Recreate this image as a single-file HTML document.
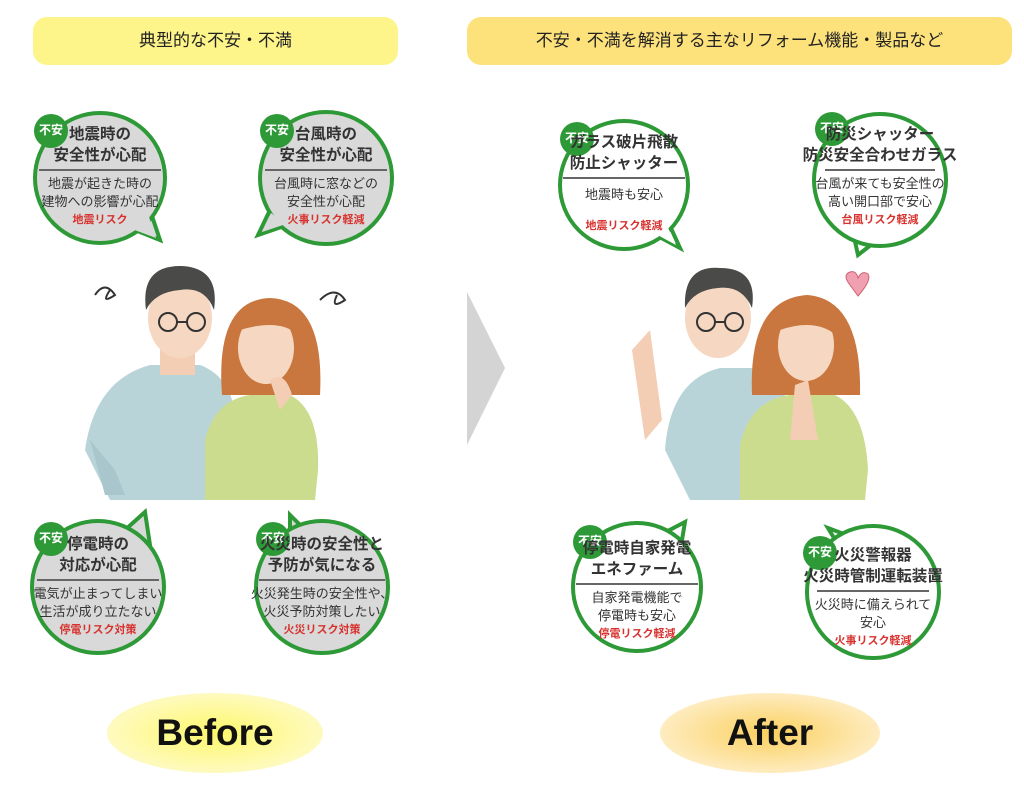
<!DOCTYPE html>
<html><head><meta charset="utf-8"><style>
body{margin:0;width:1024px;height:792px;background:#fff;position:relative;overflow:hidden;font-family:"Liberation Sans","Noto Sans CJK JP",sans-serif}
.a{position:absolute}
.pill{position:absolute;border-radius:14px;text-align:center;font-size:17px;color:#222;line-height:48px}
.t{position:absolute;width:150px;text-align:center;color:#333}
.ti{font-size:15.5px;font-weight:bold;line-height:21px}
.hr{height:2px;background:#666;margin:3px 14px 4px}
.bd{font-size:13px;line-height:18px}
.rd{font-size:11px;font-weight:bold;color:#d8322e;line-height:19px}
.badge{position:absolute;width:34px;height:34px;border-radius:50%;background:#2e9a37;color:#fff;font-size:12px;font-weight:bold;text-align:center;line-height:32px}
.big{position:absolute;font-size:37px;font-weight:bold;color:#111;text-align:center}
</style></head><body>
<div class="pill" style="left:33px;top:17px;width:365px;height:48px;background:#fdf48a">典型的な不安・不満</div>
<div class="pill" style="left:467px;top:17px;width:545px;height:48px;background:#fde27c">不安・不満を解消する主なリフォーム機能・製品など</div>

<svg class="a" style="left:0;top:0" width="1024" height="792">
<defs>
<radialGradient id="gy" cx="50%" cy="50%" r="50%"><stop offset="0" stop-color="#fdf86a"/><stop offset="1" stop-color="#fefac0"/></radialGradient>
<radialGradient id="go" cx="50%" cy="50%" r="50%"><stop offset="0" stop-color="#fbd05e"/><stop offset="1" stop-color="#feecc0"/></radialGradient>
</defs>
<polygon points="467,292 505,368 467,445" fill="#d4d4d4"/>
<ellipse cx="215" cy="733" rx="108" ry="40" fill="url(#gy)"/>
<ellipse cx="770" cy="733" rx="110" ry="40" fill="url(#go)"/>
<g stroke="#2e9a37" stroke-width="4">
<polygon points="130,228 160,240 150,210" fill="#d9d9d9"/>
<polygon points="270,210 258,235 290,224" fill="#d9d9d9"/>
<polygon points="125,530 145,512 150,545" fill="#d9d9d9"/>
<polygon points="290,545 290,515 310,535" fill="#d9d9d9"/>
<polygon points="650,232 680,248 665,215" fill="#fff"/>
<polygon points="852,228 858,255 880,238" fill="#fff"/>
<polygon points="660,535 685,522 680,552" fill="#fff"/>
<polygon points="840,548 828,528 860,540" fill="#fff"/>
<circle cx="100" cy="178" r="65" fill="#d9d9d9"/>
<circle cx="326" cy="178" r="66" fill="#d9d9d9"/>
<circle cx="98" cy="587" r="66" fill="#d9d9d9"/>
<circle cx="322" cy="587" r="66" fill="#d9d9d9"/>
<circle cx="624" cy="185" r="64" fill="#fff"/>
<circle cx="880" cy="180" r="66" fill="#fff"/>
<circle cx="637" cy="587" r="64" fill="#fff"/>
<circle cx="873" cy="592" r="66" fill="#fff"/>
</g>
<g stroke="none">
<polygon points="132,229 156,238 148,214" fill="#d9d9d9"/>
<polygon points="271,213 262,232 286,224" fill="#d9d9d9"/>
<polygon points="652,232 676,245 664,219" fill="#fff"/>
</g>
<!-- before people -->
<path d="M85,450 Q95,380 150,365 L200,365 Q240,380 235,440 L230,500 L110,500 Z" fill="#b9d4d8"/>
<path d="M90,440 L115,470 L125,495 L105,495 Z" fill="#a8c6cb"/>
<rect x="160" y="345" width="35" height="30" fill="#f3cdb4"/>
<ellipse cx="180" cy="318" rx="32" ry="40" fill="#f6d8c2"/>
<path d="M146,310 Q140,265 182,266 Q220,268 214,310 Q205,286 180,290 Q155,292 146,310Z" fill="#4a4a48"/>
<g fill="none" stroke="#333" stroke-width="2"><circle cx="168" cy="322" r="9"/><circle cx="196" cy="322" r="9"/><path d="M177,322 h10"/></g>
<path d="M205,440 Q215,400 250,395 L290,395 Q320,410 318,470 L315,500 L205,500 Z" fill="#ccdc8e"/>
<path d="M222,395 Q215,300 270,298 Q325,300 320,395 Z" fill="#c9773f"/>
<ellipse cx="266" cy="348" rx="28" ry="36" fill="#f6d8c2"/>
<path d="M240,330 Q245,305 270,308 Q295,310 298,335 Q280,318 240,330Z" fill="#c9773f"/>
<path d="M270,380 Q285,370 292,395 L280,410 Z" fill="#f3cdb4"/>
<!-- after people -->
<path d="M665,450 Q670,380 720,368 L765,368 Q790,380 790,440 L785,500 L690,500 Z" fill="#b9d4d8"/>
<path d="M632,350 L650,330 L662,420 L645,440 Z" fill="#f3cdb4"/>
<ellipse cx="718" cy="318" rx="33" ry="40" fill="#f6d8c2"/>
<path d="M685,308 Q683,265 720,268 Q758,268 752,308 Q742,285 718,288 Q694,290 685,308Z" fill="#4a4a48"/>
<g fill="none" stroke="#333" stroke-width="2"><circle cx="706" cy="322" r="9"/><circle cx="734" cy="322" r="9"/><path d="M715,322 h10"/></g>
<path d="M740,445 Q750,400 790,395 L835,395 Q865,410 868,470 L865,500 L740,500 Z" fill="#ccdc8e"/>
<path d="M752,395 Q748,298 808,295 Q862,300 860,395 Z" fill="#c9773f"/>
<ellipse cx="806" cy="345" rx="28" ry="36" fill="#f6d8c2"/>
<path d="M780,330 Q785,305 808,308 Q832,310 836,335 Q815,318 780,330Z" fill="#c9773f"/>
<path d="M795,385 L808,380 L818,440 L790,440 Z" fill="#f3cdb4"/>
<path d="M850,285 Q842,275 850,272 Q856,270 858,278 Q862,270 868,274 Q872,280 858,296Z" fill="#f0a0b0" stroke="#d06070"/>
<path d="M95,295 q10,-15 20,0 q-15,10 -5,-5" fill="none" stroke="#333" stroke-width="2"/>
<path d="M320,300 q15,-15 25,0 q-15,10 -8,-5" fill="none" stroke="#333" stroke-width="2"/>
</svg>

<div class="badge" style="left:34px;top:114px">不安</div>
<div class="badge" style="left:260px;top:114px">不安</div>
<div class="badge" style="left:34px;top:522px">不安</div>
<div class="badge" style="left:256px;top:522px">不安</div>
<div class="badge" style="left:560px;top:122px">不安</div>
<div class="badge" style="left:815px;top:112px">不安</div>
<div class="badge" style="left:573px;top:525px">不安</div>
<div class="badge" style="left:803px;top:536px">不安</div>

<div class="t" style="left:25px;top:124px"><div class="ti">地震時の<br>安全性が心配</div><div class="hr"></div><div class="bd">地震が起きた時の<br>建物への影響が心配</div><div class="rd">地震リスク</div></div>
<div class="t" style="left:251px;top:124px"><div class="ti">台風時の<br>安全性が心配</div><div class="hr"></div><div class="bd">台風時に窓などの<br>安全性が心配</div><div class="rd">火事リスク軽減</div></div>
<div class="t" style="left:23px;top:534px"><div class="ti">停電時の<br>対応が心配</div><div class="hr"></div><div class="bd">電気が止まってしまい<br>生活が成り立たない</div><div class="rd">停電リスク対策</div></div>
<div class="t" style="left:237px;top:534px;width:170px"><div class="ti">火災時の安全性と<br>予防が気になる</div><div class="hr" style="margin:3px 22px 4px"></div><div class="bd">火災発生時の安全性や、<br>火災予防対策したい</div><div class="rd">火災リスク対策</div></div>
<div class="t" style="left:549px;top:132px"><div class="ti">ガラス破片飛散<br>防止シャッター</div><div class="hr"></div><div class="bd" style="line-height:24px">地震時も安心</div><div class="rd" style="margin-top:10px">地震リスク軽減</div></div>
<div class="t" style="left:790px;top:124px;width:180px"><div class="ti">防災シャッター<br>防災安全合わせガラス</div><div class="hr" style="margin:3px 35px 4px"></div><div class="bd">台風が来ても安全性の<br>高い開口部で安心</div><div class="rd">台風リスク軽減</div></div>
<div class="t" style="left:562px;top:538px"><div class="ti">停電時自家発電<br>エネファーム</div><div class="hr"></div><div class="bd">自家発電機能で<br>停電時も安心</div><div class="rd">停電リスク軽減</div></div>
<div class="t" style="left:788px;top:545px;width:170px"><div class="ti">火災警報器<br>火災時管制運転装置</div><div class="hr" style="margin:3px 29px 4px"></div><div class="bd">火災時に備えられて<br>安心</div><div class="rd">火事リスク軽減</div></div>

<div class="big" style="left:107px;top:712px;width:216px">Before</div>
<div class="big" style="left:660px;top:712px;width:220px">After</div>
</body></html>
